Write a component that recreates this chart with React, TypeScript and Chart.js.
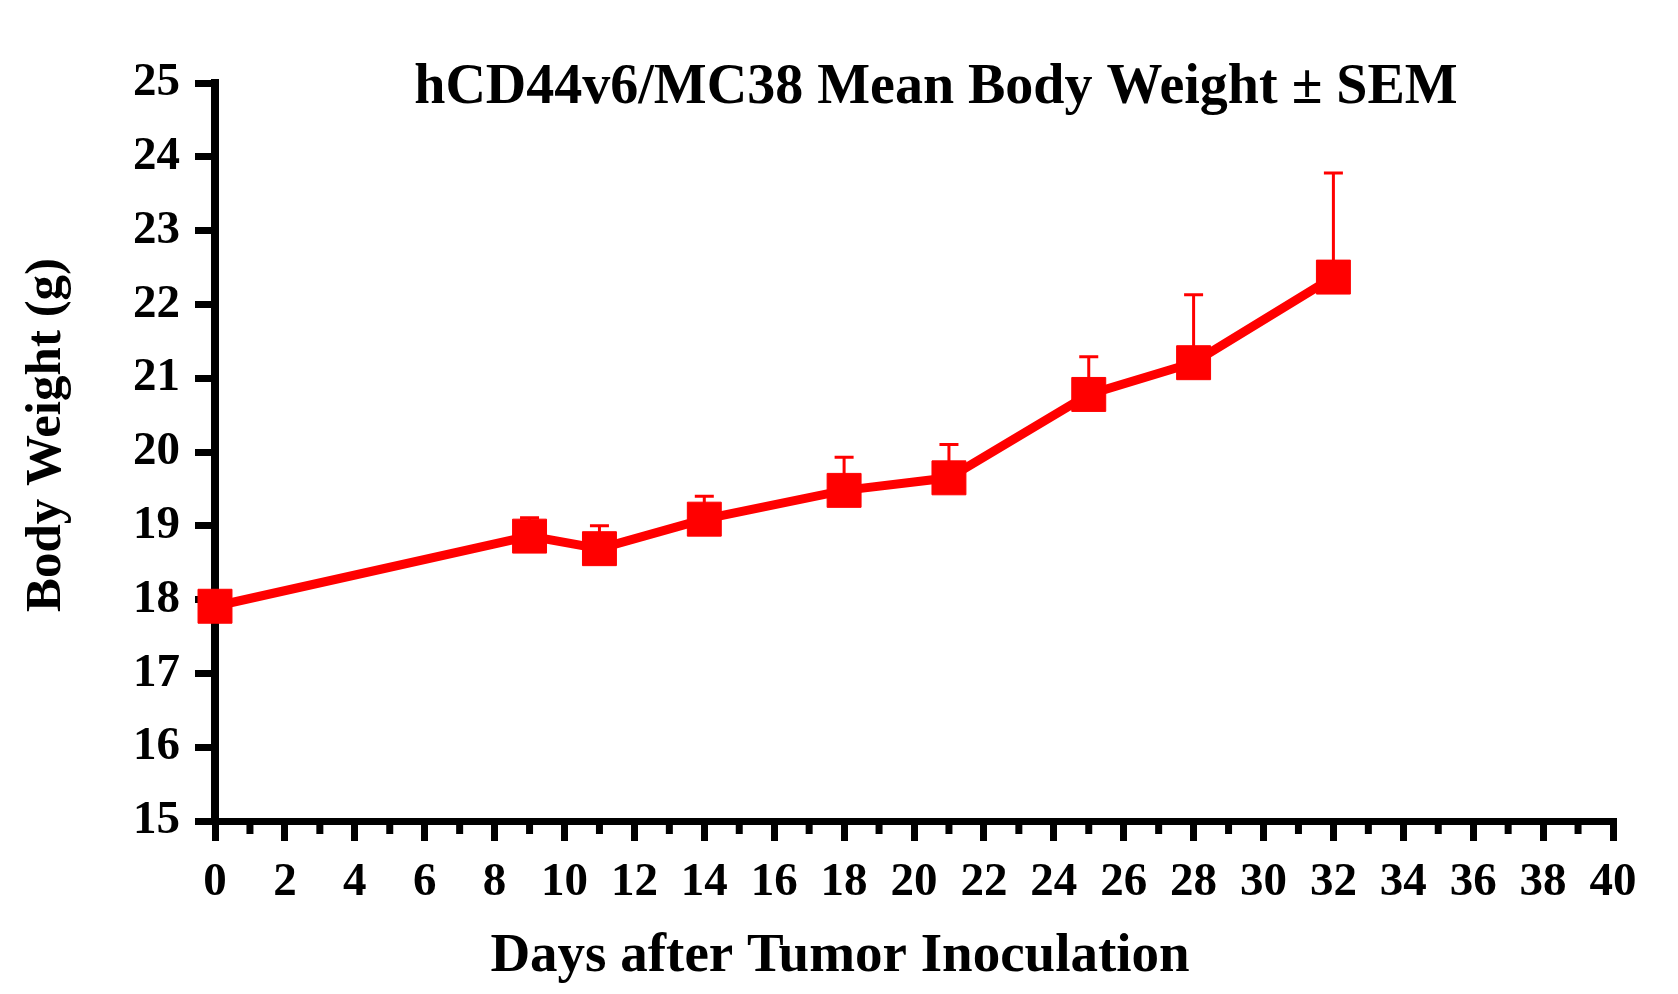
import React, { useRef, useEffect } from "react";
import { Chart, registerables } from "chart.js";

Chart.register(...registerables);

// days after inoculation and group mean body weight (g)
const days = [0, 9, 11, 14, 18, 21, 25, 28, 32];
const meanWeight = [17.91, 18.86, 18.69, 19.09, 19.48, 19.65, 20.78, 21.21, 22.37];
const semWeight = [0.1, 0.25, 0.31, 0.31, 0.45, 0.45, 0.51, 0.92, 1.41];

const xMin = 0;
const xMax = 40;
const yMin = 15;
const yMax = 25;

const chartTitle = "hCD44v6/MC38 Mean Body Weight \u00B1 SEM";
const xTitle = "Days after Tumor Inoculation";
const yTitle = "Body Weight (g)";

const serif = '"Liberation Serif", "Times New Roman", serif';
const red = "#ff0000";

const decorPlugin = {
	id: "decor",
	beforeDatasetsDraw(chart: any) {
		// SEM bars, upper half only
		const ctx = chart.ctx;
		const x = chart.scales.x;
		const y = chart.scales.y;
		ctx.save();
		ctx.strokeStyle = red;
		ctx.lineWidth = 3;
		days.forEach((d, i) => {
			const px = x.getPixelForValue(d);
			const py = y.getPixelForValue(meanWeight[i]);
			const pTop = y.getPixelForValue(meanWeight[i] + semWeight[i]);
			ctx.beginPath();
			ctx.moveTo(px, py);
			ctx.lineTo(px, pTop);
			ctx.moveTo(px - 9.5, pTop);
			ctx.lineTo(px + 9.5, pTop);
			ctx.stroke();
		});
		ctx.restore();
	},
	afterDraw(chart: any) {
		const ctx = chart.ctx;
		const area = chart.chartArea;
		const x = chart.scales.x;
		ctx.save();
		// minor ticks on odd days
		ctx.fillStyle = "#000";
		for (let v = xMin + 1; v < xMax; v += 2) {
			const px = x.getPixelForValue(v);
			ctx.fillRect(px - 3.5, area.bottom + 3, 7, 10);
		}
		ctx.fillStyle = "#000";
		ctx.textAlign = "center";
		ctx.textBaseline = "alphabetic";
		ctx.font = `bold 56px ${serif}`;
		ctx.fillText(chartTitle, (area.left + area.right) / 2 + 22, area.top + 20);
		ctx.font = `bold 55px ${serif}`;
		ctx.fillText(xTitle, (area.left + area.right) / 2 - 74, area.bottom + 150);
		ctx.font = `bold 51px ${serif}`;
		ctx.translate(60, (area.top + area.bottom) / 2 - 17);
		ctx.rotate(-Math.PI / 2);
		ctx.fillText(yTitle, 0, 0);
		ctx.restore();
	},
};

const BodyWeightChart: React.FC = () => {
	const canvasRef = useRef<HTMLCanvasElement | null>(null);
	const chartInstance = useRef<Chart | null>(null);

	useEffect(() => {
		if (chartInstance.current) {
			chartInstance.current.destroy();
			chartInstance.current = null;
		}
		if (!canvasRef.current) return;

		const tickFont = { family: serif, size: 47, weight: "bold" as const };

		chartInstance.current = new Chart(canvasRef.current, {
			type: "line",
			data: {
				datasets: [
					{
						label: "Mean Body Weight",
						data: days.map((d, i) => ({ x: d, y: meanWeight[i] })),
						borderColor: red,
						backgroundColor: red,
						borderWidth: 9,
						pointStyle: "rect",
						pointRadius: 24,
						pointBorderWidth: 1,
						pointBorderColor: red,
						pointBackgroundColor: red,
						tension: 0,
						clip: false as any,
					},
				],
			},
			options: {
				responsive: false,
				animation: false,
				layout: {
					padding: { left: 0, top: 83, right: 65, bottom: 0 },
				},
				plugins: {
					legend: { display: false },
					tooltip: { enabled: false },
					title: { display: false },
				},
				scales: {
					x: {
						type: "linear",
						min: xMin,
						max: xMax,
						afterFit: (scale: any) => {
							scale.height = 173;
						},
						grid: {
							drawOnChartArea: false,
							drawTicks: true,
							tickLength: 20,
							tickWidth: 7,
							lineWidth: 7,
							color: "#000",
						},
						border: { display: true, color: "#000", width: 7 },
						ticks: {
							stepSize: 2,
							autoSkip: false,
							maxRotation: 0,
							padding: 14,
							color: "#000",
							font: tickFont,
						},
					},
					y: {
						type: "linear",
						min: yMin,
						max: yMax,
						afterFit: (scale: any) => {
							scale.width = 215;
						},
						grid: {
							drawOnChartArea: false,
							drawTicks: true,
							tickLength: 20,
							tickWidth: 7,
							lineWidth: 7,
							color: "#000",
						},
						border: { display: true, color: "#000", width: 8 },
						ticks: {
							stepSize: 1,
							autoSkip: false,
							padding: 15,
							color: "#000",
							font: tickFont,
						},
					},
				},
			},
			plugins: [decorPlugin],
		});

		return () => {
			if (chartInstance.current) {
				chartInstance.current.destroy();
				chartInstance.current = null;
			}
		};
	}, []);

	return (
		<div style={{ position: "absolute", left: 0, top: 0, width: 1678, height: 994, background: "#fff" }}>
			<canvas ref={canvasRef} width="1678" height="994"></canvas>
		</div>
	);
};

export default function App() {
	return <BodyWeightChart />;
}
